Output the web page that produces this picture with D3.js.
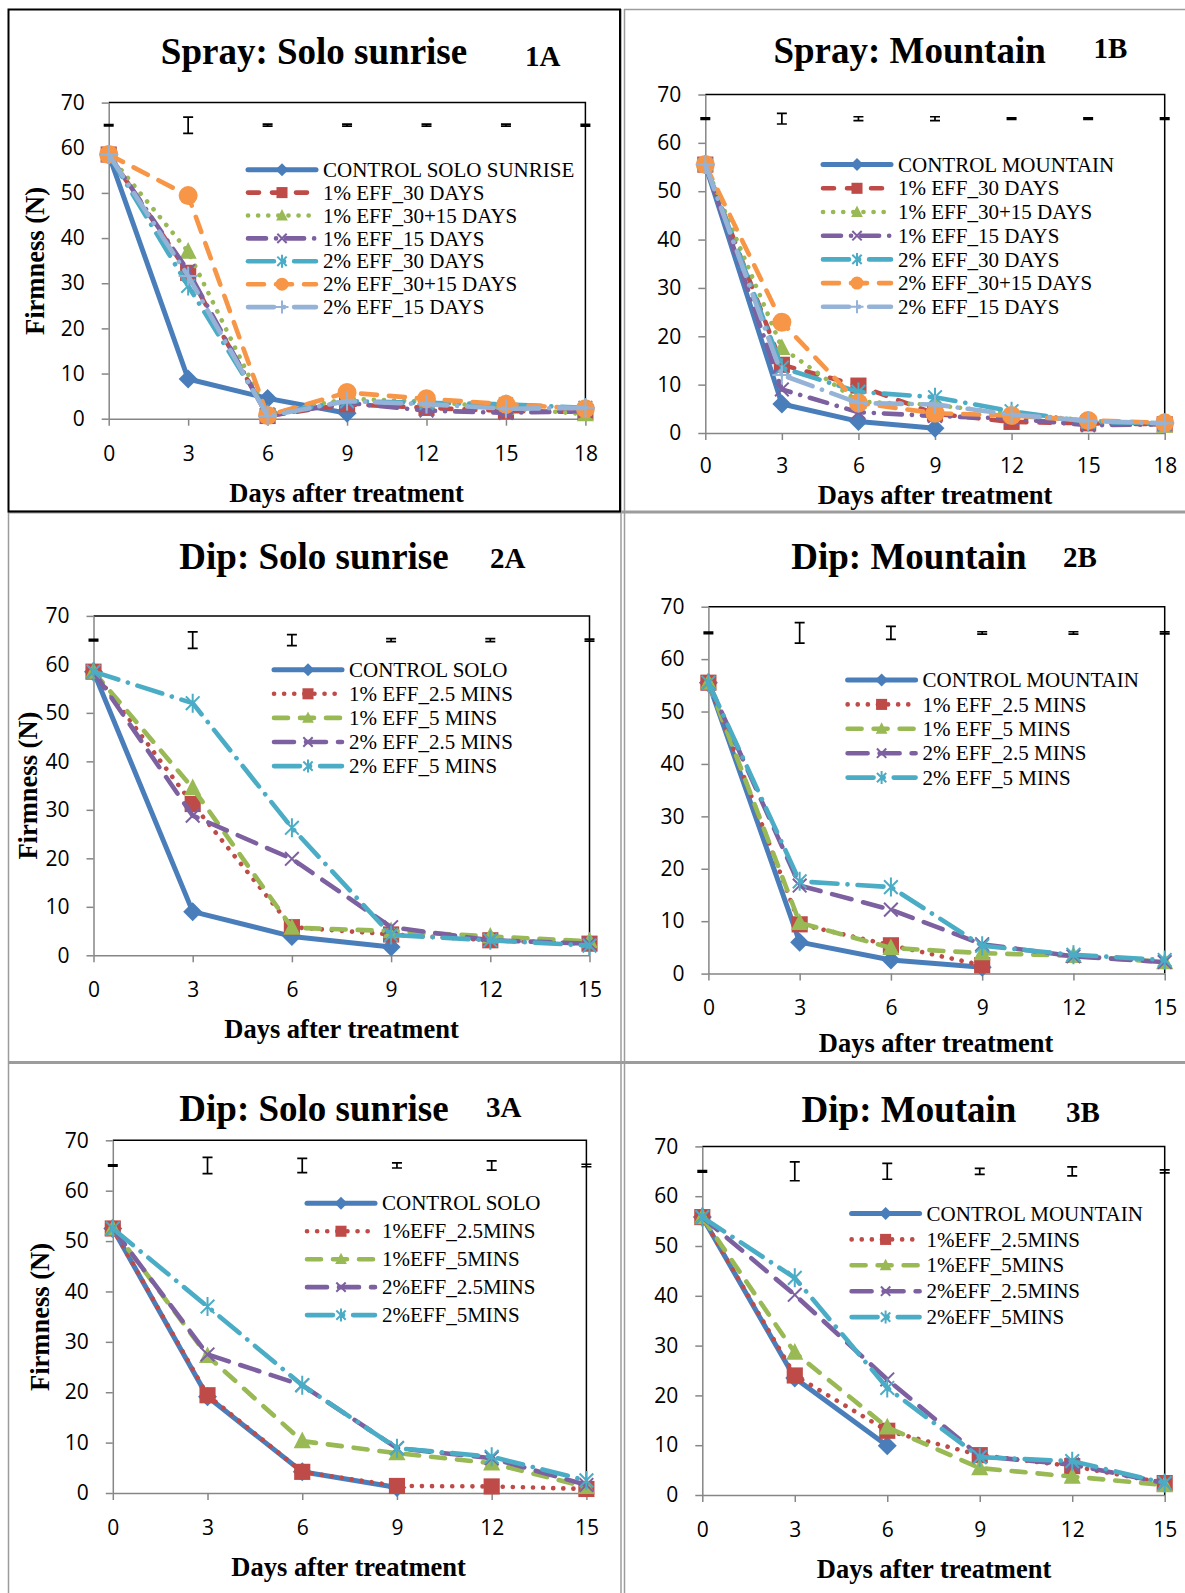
<!DOCTYPE html>
<html><head><meta charset="utf-8">
<script src="https://cdn.jsdelivr.net/npm/d3@7"></script>
<style>
html,body{margin:0;padding:0;background:#fff;}
svg{display:block;}
</style></head>
<body>
<svg id="fig" width="1185" height="1593"></svg>
<script>
// ---- Axis values -------------------------------------------------------
const daysSpray = [0, 3, 6, 9, 12, 15, 18];
const daysDip = [0, 3, 6, 9, 12, 15];
const firmnessTicks = [0, 10, 20, 30, 40, 50, 60, 70];
const lsdLevel = 65;   // height (N) at which the LSD bars are drawn

// ---- Legend labels -----------------------------------------------------
const spraySoloLabels = ["CONTROL SOLO SUNRISE", "1% EFF_30 DAYS", "1% EFF_30+15 DAYS", "1% EFF_15 DAYS", "2% EFF_30 DAYS", "2% EFF_30+15 DAYS", "2% EFF_15 DAYS"];
const sprayMountainLabels = ["CONTROL MOUNTAIN", "1% EFF_30 DAYS", "1% EFF_30+15 DAYS", "1% EFF_15 DAYS", "2% EFF_30 DAYS", "2% EFF_30+15 DAYS", "2% EFF_15 DAYS"];
const dipSoloLabels = ["CONTROL SOLO", "1% EFF_2.5 MINS", "1% EFF_5 MINS", "2% EFF_2.5 MINS", "2% EFF_5 MINS"];
const dipMountainLabels = ["CONTROL MOUNTAIN", "1% EFF_2.5 MINS", "1% EFF_5 MINS", "2% EFF_2.5 MINS", "2% EFF_5 MINS"];
const dip3SoloLabels = ["CONTROL SOLO", "1%EFF_2.5MINS", "1%EFF_5MINS", "2%EFF_2.5MINS", "2%EFF_5MINS"];
const dip3MountainLabels = ["CONTROL MOUNTAIN", "1%EFF_2.5MINS", "1%EFF_5MINS", "2%EFF_2.5MINS", "2%EFF_5MINS"];

// ---- Firmness (N): 1A Spray, Solo sunrise ------------------------------
const a1Control  = [58.5, 8.8, 4.5, 1.2];
const a1Eff1_30  = [58.5, 32.3, 0.6, 3.2, 2.4, 1.7, 1.5];
const a1Eff1_45  = [58.5, 37.0, 1.0, 4.4, 3.8, 2.4, 1.0];
const a1Eff1_15  = [58.5, 32.7, 0.6, 3.5, 1.8, 1.3, 1.7];
const a1Eff2_30  = [58.5, 29.4, 1.0, 3.9, 3.5, 3.2, 2.4];
const a1Eff2_45  = [58.5, 49.4, 0.7, 5.8, 4.4, 3.2, 2.2];
const a1Eff2_15  = [58.5, 31.6, 0.6, 3.9, 3.2, 2.2, 2.4];
const a1Lsd      = [0.15, 1.8, 0.22, 0.22, 0.22, 0.22, 0.2];

// ---- Firmness (N): 1B Spray, Mountain ----------------------------------
const b1Control  = [55.5, 6.0, 2.4, 1.0];
const b1Eff1_30  = [55.5, 14.1, 9.8, 4.0, 2.3, 2.0, 1.8];
const b1Eff1_45  = [55.5, 17.6, 6.5, 5.8, 4.0, 2.6, 1.5];
const b1Eff1_15  = [55.5, 9.0, 4.3, 3.5, 3.0, 1.6, 1.8];
const b1Eff2_30  = [55.5, 13.5, 8.5, 7.4, 4.5, 2.3, 2.0];
const b1Eff2_45  = [55.5, 22.9, 6.2, 4.1, 3.6, 2.6, 2.1];
const b1Eff2_15  = [55.5, 12.0, 6.2, 5.9, 3.8, 2.5, 2.0];
const b1Lsd      = [0.15, 1.1, 0.4, 0.4, 0.15, 0.15, 0.15];

// ---- Firmness (N): 2A Dip, Solo sunrise --------------------------------
const a2Control  = [58.5, 9.0, 3.9, 1.7];
const a2Eff1_25  = [58.5, 31.2, 5.8, 4.3, 3.1, 2.4];
const a2Eff1_5   = [58.5, 34.5, 5.7, 5.0, 3.9, 2.9];
const a2Eff2_25  = [58.5, 28.8, 19.9, 5.8, 3.1, 2.4];
const a2Eff2_5   = [58.5, 52.0, 26.3, 4.2, 3.1, 2.0];
const a2Lsd      = [0.15, 1.7, 1.15, 0.3, 0.3, 0.2];

// ---- Firmness (N): 2B Dip, Mountain ------------------------------------
const b2Control  = [55.5, 6.0, 2.6, 1.2];
const b2Eff1_25  = [55.5, 9.4, 5.4, 1.6];
const b2Eff1_5   = [55.5, 9.7, 4.9, 3.9, 3.4, 2.2];
const b2Eff2_25  = [55.5, 16.8, 12.2, 5.6, 3.3, 2.2];
const b2Eff2_5   = [55.5, 17.6, 16.5, 5.3, 3.6, 2.6];
const b2Lsd      = [0.15, 1.95, 1.25, 0.22, 0.22, 0.2];

// ---- Firmness (N): 3A Dip, Solo sunrise --------------------------------
const a3Control  = [52.5, 19.1, 4.2, 1.1];
const a3Eff1_25  = [52.5, 19.4, 4.2, 1.4, 1.3, 0.8];
const a3Eff1_5   = [52.5, 27.2, 10.3, 7.9, 5.9, 1.2];
const a3Eff2_25  = [52.5, 27.5, 21.4, 8.9, 6.9, 1.6];
const a3Eff2_5   = [52.5, 37.0, 21.4, 8.9, 7.2, 2.5];
const a3Lsd      = [0.15, 1.6, 1.4, 0.5, 0.9, 0.25];

// ---- Firmness (N): 3B Dip, Moutain -------------------------------------
const b3Control  = [55.8, 23.5, 9.9];
const b3Eff1_25  = [55.8, 24.0, 12.9, 8.0, 5.8, 2.4];
const b3Eff1_5   = [55.8, 28.6, 13.6, 5.4, 3.7, 2.0];
const b3Eff2_25  = [55.8, 40.2, 23.2, 7.8, 6.1, 2.4];
const b3Eff2_5   = [55.8, 43.6, 21.5, 7.6, 6.8, 2.4];
const b3Lsd      = [0.15, 1.9, 1.6, 0.6, 0.9, 0.3];

// ---- Series styles -----------------------------------------------------
const BLUE = "#4A7EBB", RED = "#BE4B48", GREEN = "#98B954", PURPLE = "#7D60A0",
      TEAL = "#4BACC6", ORANGE = "#F79646", LAVENDER = "#95B3D7";
const sprayStyles = [
  { color: BLUE,     dash: null,             marker: "diamond",  width: 5 },
  { color: RED,      dash: "11,13",          marker: "square",   width: 4.6 },
  { color: GREEN,    dash: "0.1,10",         marker: "triangle", width: 4.6 },
  { color: PURPLE,   dash: "18,10,0.1,10",   marker: "x",        width: 4.6 },
  { color: TEAL,     dash: "26,10,0.1,10",   marker: "star",     width: 4.6 },
  { color: ORANGE,   dash: "16,12",          marker: "circle",   width: 4.6 },
  { color: LAVENDER, dash: "26,10,0.1,10",   marker: "plus",     width: 4.6 }
];
const dipStyles = [
  { color: BLUE,   dash: null,           marker: "diamond",  width: 5 },
  { color: RED,    dash: "0.1,10",       marker: "square",   width: 4.6 },
  { color: GREEN,  dash: "14,12",        marker: "triangle", width: 4.6 },
  { color: PURPLE, dash: "20,12",        marker: "x",        width: 4.6 },
  { color: TEAL,   dash: "26,10,0.1,10", marker: "star",     width: 4.6 }
];

const SERIF = "'Liberation Serif', 'Times New Roman', serif";
const SANS = "'Open Sans', sans-serif";
const MARK = 19;      // marker size on the plotted lines
const LEG_MARK = 13;  // marker size in the legends

// ---- Panel layout ------------------------------------------------------
const panels = [
  { title: "Spray: Solo sunrise", tag: "1A", days: daysSpray, styles: sprayStyles, labels: spraySoloLabels,
    values: [a1Control, a1Eff1_30, a1Eff1_45, a1Eff1_15, a1Eff2_30, a1Eff2_45, a1Eff2_15], lsd: a1Lsd,
    x0: 108.7, x1: 585.4, yTop: 102.6, yBot: 418.7, xPad: 20,
    titleX: 314, titleY: 64, tagX: 525, tagY: 66, xTitleX: 346.6, xTitleY: 502, yTitle: { x: 44, y: 261 },
    legX: 246, legY: 169.7, legDy: 22.9 },
  { title: "Spray: Mountain", tag: "1B", days: daysSpray, styles: sprayStyles, labels: sprayMountainLabels,
    values: [b1Control, b1Eff1_30, b1Eff1_45, b1Eff1_15, b1Eff2_30, b1Eff2_45, b1Eff2_15], lsd: b1Lsd,
    x0: 705.3, x1: 1164.7, yTop: 94.5, yBot: 433, xPad: 18,
    titleX: 909.6, titleY: 63, tagX: 1093.5, tagY: 58, xTitleX: 935, xTitleY: 504, yTitle: null,
    legX: 821, legY: 164.6, legDy: 23.7 },
  { title: "Dip: Solo sunrise", tag: "2A", days: daysDip, styles: dipStyles, labels: dipSoloLabels,
    values: [a2Control, a2Eff1_25, a2Eff1_5, a2Eff2_25, a2Eff2_5], lsd: a2Lsd,
    x0: 93.5, x1: 589.5, yTop: 615.9, yBot: 955.3, xPad: 20,
    titleX: 314, titleY: 569, tagX: 490, tagY: 568, xTitleX: 341.5, xTitleY: 1037.7, yTitle: { x: 37, y: 785.6 },
    legX: 272, legY: 669.7, legDy: 24.1 },
  { title: "Dip: Mountain", tag: "2B", days: daysDip, styles: dipStyles, labels: dipMountainLabels,
    values: [b2Control, b2Eff1_25, b2Eff1_5, b2Eff2_25, b2Eff2_5], lsd: b2Lsd,
    x0: 708.4, x1: 1164.7, yTop: 606.7, yBot: 973.6, xPad: 19,
    titleX: 909, titleY: 569, tagX: 1063, tagY: 567, xTitleX: 936, xTitleY: 1052, yTitle: null,
    legX: 845.6, legY: 680, legDy: 24.4 },
  { title: "Dip: Solo sunrise", tag: "3A", days: daysDip, styles: dipStyles, labels: dip3SoloLabels,
    values: [a3Control, a3Eff1_25, a3Eff1_5, a3Eff2_25, a3Eff2_5], lsd: a3Lsd,
    x0: 112.8, x1: 586.4, yTop: 1140.3, yBot: 1493, xPad: 20,
    titleX: 314, titleY: 1121, tagX: 486, tagY: 1117, xTitleX: 348.6, xTitleY: 1576, yTitle: { x: 48.5, y: 1317 },
    legX: 305, legY: 1203.3, legDy: 27.95 },
  { title: "Dip: Moutain", tag: "3B", days: daysDip, styles: dipStyles, labels: dip3MountainLabels,
    values: [b3Control, b3Eff1_25, b3Eff1_5, b3Eff2_25, b3Eff2_5], lsd: b3Lsd,
    x0: 702.3, x1: 1164.7, yTop: 1146.4, yBot: 1495, xPad: 20,
    titleX: 909, titleY: 1122, tagX: 1066, tagY: 1122, xTitleX: 934, xTitleY: 1578, yTitle: null,
    legX: 849.6, legY: 1213.5, legDy: 25.9 }
];

const svg = d3.select("#fig");
svg.append("rect").attr("width", 1185).attr("height", 1593).attr("fill", "#fff");

// ---- Table rules around the six charts ---------------------------------
const rules = svg.append("g").attr("stroke", "#9c9c9c").attr("fill", "none");
rules.append("path").attr("d", "M624,9.5H1185").attr("stroke-width", 1.5);
rules.append("path").attr("d", "M8,512H1185").attr("stroke-width", 3);
rules.append("path").attr("d", "M8,1062.5H1185").attr("stroke-width", 3);
rules.append("path").attr("d", "M621,9V1593").attr("stroke-width", 1.5);
rules.append("path").attr("d", "M624.5,9V1593").attr("stroke-width", 1.5);
rules.append("path").attr("d", "M8.5,512V1593").attr("stroke-width", 1.5);
// frame of the first chart
svg.append("rect").attr("x", 8.5).attr("y", 9.5).attr("width", 611.5).attr("height", 502)
  .attr("fill", "none").attr("stroke", "#000").attr("stroke-width", 2);

function drawMarker(g, type, cx, cy, s, color) {
  const h = s / 2;
  switch (type) {
    case "diamond":
      g.append("path").attr("d", `M${cx},${cy - h}L${cx + h},${cy}L${cx},${cy + h}L${cx - h},${cy}Z`).attr("fill", color);
      break;
    case "square": {
      const q = h * 0.85;
      g.append("rect").attr("x", cx - q).attr("y", cy - q).attr("width", 2 * q).attr("height", 2 * q).attr("fill", color);
      break;
    }
    case "triangle":
      g.append("path").attr("d", `M${cx},${cy - h}L${cx + h * 0.9},${cy + h * 0.75}L${cx - h * 0.9},${cy + h * 0.75}Z`).attr("fill", color);
      break;
    case "circle":
      g.append("circle").attr("cx", cx).attr("cy", cy).attr("r", h).attr("fill", color);
      break;
    case "x": {
      const q = h * 0.72;
      g.append("path").attr("d", `M${cx - q},${cy - q}L${cx + q},${cy + q}M${cx + q},${cy - q}L${cx - q},${cy + q}`)
        .attr("stroke", color).attr("stroke-width", 2).attr("fill", "none");
      break;
    }
    case "star": {
      const q = h * 0.72;
      g.append("path").attr("d", `M${cx - q},${cy - q}L${cx + q},${cy + q}M${cx + q},${cy - q}L${cx - q},${cy + q}M${cx},${cy - h}L${cx},${cy + h}`)
        .attr("stroke", color).attr("stroke-width", 2).attr("fill", "none");
      break;
    }
    case "plus":
      g.append("path").attr("d", `M${cx - h},${cy}L${cx + h},${cy}M${cx},${cy - h}L${cx},${cy + h}`)
        .attr("stroke", color).attr("stroke-width", 2).attr("fill", "none");
      break;
  }
}

function styleAxis(sel) {
  sel.attr("font-size", null).attr("font-family", null);
  sel.select(".domain").attr("stroke", "#868686").attr("stroke-width", 1.5);
  sel.selectAll(".tick line").attr("stroke", "#868686").attr("stroke-width", 1.5);
  sel.selectAll(".tick text").attr("font-family", SANS).attr("font-size", 21).attr("fill", "#000");
}

function drawPanel(p) {
  const g = svg.append("g");
  const x = d3.scaleLinear().domain([0, d3.max(p.days)]).range([p.x0, p.x1]);
  const y = d3.scaleLinear().domain([0, 70]).range([p.yBot, p.yTop]);

  // titles
  g.append("text").attr("x", p.titleX).attr("y", p.titleY).attr("text-anchor", "middle")
    .attr("font-family", SERIF).attr("font-weight", "bold").attr("font-size", 37).text(p.title);
  g.append("text").attr("x", p.tagX).attr("y", p.tagY)
    .attr("font-family", SERIF).attr("font-weight", "bold").attr("font-size", 29).text(p.tag);

  // plot-area frame (top and right)
  g.append("path").attr("d", `M${p.x0},${p.yTop}H${p.x1}V${p.yBot}`)
    .attr("fill", "none").attr("stroke", "#000").attr("stroke-width", 1.5);

  // axes
  g.append("g").attr("transform", `translate(${p.x0},0)`)
    .call(d3.axisLeft(y).tickValues(firmnessTicks).tickSize(7).tickSizeOuter(0).tickPadding(17))
    .call(styleAxis);
  g.append("g").attr("transform", `translate(0,${p.yBot})`)
    .call(d3.axisBottom(x).tickValues(p.days).tickSize(7).tickSizeOuter(0).tickPadding(p.xPad))
    .call(styleAxis);

  // axis titles
  g.append("text").attr("x", p.xTitleX).attr("y", p.xTitleY).attr("text-anchor", "middle")
    .attr("font-family", SERIF).attr("font-weight", "bold").attr("font-size", 26.5).text("Days after treatment");
  if (p.yTitle) {
    g.append("text").attr("transform", `translate(${p.yTitle.x},${p.yTitle.y}) rotate(-90)`)
      .attr("text-anchor", "middle").attr("font-family", SERIF).attr("font-weight", "bold")
      .attr("font-size", 26.5).text("Firmness (N)");
  }

  // LSD bars
  const lsdG = g.append("g").attr("stroke", "#000").attr("stroke-width", 1.7).attr("fill", "none");
  p.lsd.forEach((e, i) => {
    const cx = x(p.days[i]), yt = y(lsdLevel + e), yb = y(lsdLevel - e);
    lsdG.append("path").attr("d", `M${cx},${yt}V${yb}M${cx - 5},${yt}H${cx + 5}M${cx - 5},${yb}H${cx + 5}`);
  });

  // series
  const line = d3.line().defined(d => d.v != null).x(d => x(d.day)).y(d => y(d.v));
  p.values.forEach((vals, si) => {
    const st = p.styles[si];
    const pts = p.days.map((day, i) => ({ day, v: i < vals.length ? vals[i] : null }));
    const sg = g.append("g");
    sg.append("path").datum(pts).attr("d", line).attr("fill", "none")
      .attr("stroke", st.color).attr("stroke-width", st.width)
      .attr("stroke-linecap", "round").attr("stroke-linejoin", "round")
      .attr("stroke-dasharray", st.dash);
    pts.filter(d => d.v != null).forEach(d => drawMarker(sg, st.marker, x(d.day), y(d.v), MARK, st.color));
  });

  // legend
  const lg = g.append("g");
  p.labels.forEach((lab, i) => {
    const st = p.styles[i];
    const ly = p.legY + i * p.legDy;
    lg.append("path").attr("d", `M${p.legX + 2},${ly}H${p.legX + 70}`).attr("fill", "none")
      .attr("stroke", st.color).attr("stroke-width", st.width)
      .attr("stroke-linecap", "round").attr("stroke-dasharray", st.dash);
    drawMarker(lg, st.marker, p.legX + 36, ly, LEG_MARK, st.color);
    lg.append("text").attr("x", p.legX + 77).attr("y", ly).attr("dy", "0.34em")
      .attr("font-family", SERIF).attr("font-size", 21).text(lab);
  });
}

panels.forEach(drawPanel);
</script>
</body></html>
